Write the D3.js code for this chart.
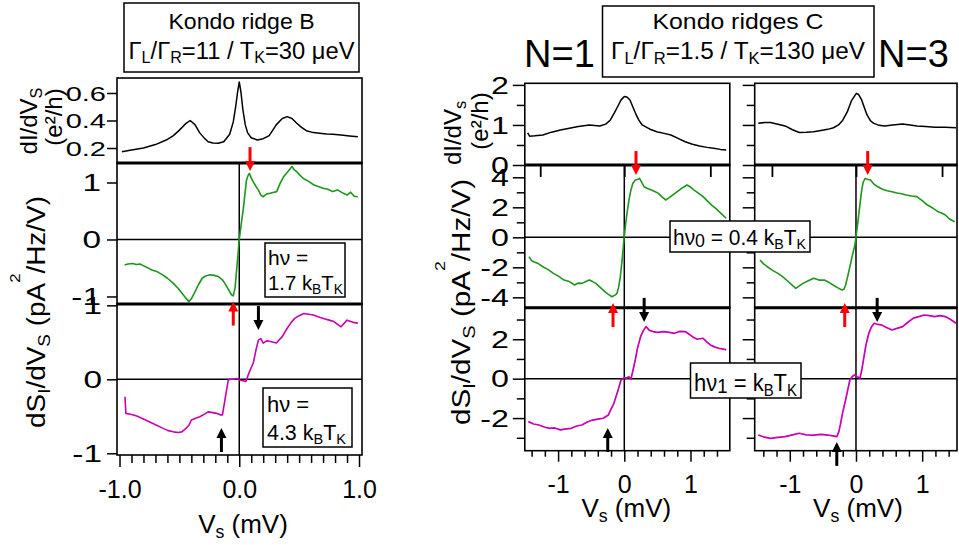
<!DOCTYPE html>
<html><head><meta charset="utf-8">
<script src="https://cdn.jsdelivr.net/npm/d3@7"></script>
<style>
body{margin:0;background:#fff}
svg{display:block}
text{font-family:"Liberation Sans",Arial,Helvetica,sans-serif;fill:#000}
</style>
</head><body><script>
// ---------------- DATA ----------------
// Kondo ridge B : dI/dV (e^2/h)
const bCondV = [-0.98,-0.9,-0.8,-0.7,-0.61,-0.55,-0.5,-0.45,-0.41,-0.37,-0.33,-0.29,-0.26,-0.22,-0.175,-0.13,-0.08,-0.05,-0.03,-0.015,0.0,0.015,0.03,0.05,0.07,0.1,0.15,0.2,0.25,0.31,0.36,0.4,0.44,0.48,0.52,0.56,0.62,0.67,0.73,0.78,0.85,0.92,0.99];
const bCond  = [0.173,0.185,0.20,0.225,0.258,0.29,0.33,0.375,0.40,0.37,0.31,0.27,0.246,0.236,0.234,0.245,0.30,0.39,0.50,0.60,0.68,0.60,0.48,0.37,0.31,0.275,0.258,0.268,0.29,0.37,0.415,0.428,0.415,0.38,0.35,0.326,0.312,0.307,0.302,0.30,0.295,0.288,0.282];
// Kondo ridge B : dS/dV, h nu = 1.7 kBTK
const bLowV = [-0.957,-0.93,-0.89,-0.86,-0.83,-0.81,-0.77,-0.73,-0.69,-0.64,-0.6,-0.55,-0.51,-0.48,-0.45,-0.42,-0.40,-0.37,-0.34,-0.31,-0.28,-0.245,-0.21,-0.175,-0.14,-0.12,-0.09,-0.065,-0.05,-0.035,-0.022,-0.01,0.0,0.015,0.033,0.05,0.06,0.075,0.084,0.1,0.117,0.14,0.159,0.18,0.2,0.23,0.257,0.29,0.313,0.34,0.37,0.41,0.44,0.46,0.48,0.51,0.535,0.58,0.62,0.66,0.7,0.74,0.78,0.82,0.87,0.9,0.93,0.96,0.99];
const bLow  = [-0.447,-0.43,-0.42,-0.44,-0.43,-0.45,-0.49,-0.535,-0.56,-0.62,-0.68,-0.77,-0.86,-0.94,-1.02,-1.09,-1.04,-0.92,-0.79,-0.68,-0.64,-0.62,-0.63,-0.65,-0.71,-0.77,-0.88,-0.97,-0.99,-0.85,-0.535,-0.25,0.0,0.25,0.52,0.85,1.04,1.13,1.16,1.08,1.01,0.93,0.87,0.78,0.75,0.80,0.81,0.83,0.84,0.98,1.10,1.2,1.28,1.22,1.19,1.12,1.07,1.02,0.96,0.93,0.90,0.88,0.84,0.87,0.81,0.78,0.83,0.76,0.75];
// Kondo ridge B : dS/dV, h nu = 4.3 kBTK
const bHighV = [-0.954,-0.947,-0.92,-0.89,-0.85,-0.81,-0.77,-0.73,-0.69,-0.64,-0.6,-0.55,-0.51,-0.48,-0.45,-0.42,-0.40,-0.37,-0.33,-0.29,-0.26,-0.22,-0.19,-0.16,-0.14,-0.12,-0.092,-0.07,-0.05,-0.02,0.006,0.03,0.056,0.075,0.095,0.117,0.14,0.16,0.18,0.2,0.23,0.26,0.31,0.36,0.40,0.43,0.46,0.5,0.54,0.58,0.62,0.67,0.71,0.75,0.79,0.85,0.9,0.95,0.99];
const bHigh  = [-0.235,-0.46,-0.47,-0.48,-0.50,-0.53,-0.56,-0.59,-0.62,-0.66,-0.69,-0.71,-0.72,-0.71,-0.67,-0.62,-0.55,-0.53,-0.505,-0.47,-0.44,-0.45,-0.46,-0.48,-0.48,-0.28,-0.01,0.0,0.0,0.01,-0.01,-0.02,-0.03,0.06,0.14,0.22,0.40,0.53,0.55,0.49,0.52,0.51,0.49,0.58,0.69,0.76,0.82,0.86,0.89,0.88,0.87,0.84,0.82,0.80,0.78,0.71,0.80,0.77,0.76];

// Kondo ridges C, N=1 : dI/dV
const c1CondV = [-1.46,-1.43,-1.35,-1.23,-1.1,-0.965,-0.83,-0.695,-0.53,-0.37,-0.28,-0.21,-0.15,-0.10,-0.05,0.0,0.04,0.086,0.13,0.17,0.22,0.27,0.38,0.49,0.6,0.705,0.82,0.92,1.03,1.136,1.25,1.35,1.45,1.54];
const c1Cond  = [0.80,0.72,0.73,0.75,0.82,0.875,0.92,0.96,1.0,0.975,1.02,1.125,1.3,1.46,1.62,1.71,1.70,1.625,1.45,1.29,1.12,1.0,0.9,0.83,0.79,0.75,0.66,0.58,0.52,0.475,0.44,0.42,0.39,0.375];
// N=3 : dI/dV
const c3CondV = [-1.476,-1.38,-1.29,-1.18,-1.07,-0.96,-0.857,-0.75,-0.64,-0.53,-0.426,-0.34,-0.264,-0.2,-0.13,-0.07,0.005,0.04,0.086,0.13,0.167,0.22,0.27,0.35,0.435,0.55,0.705,0.82,0.92,1.05,1.19,1.35,1.51];
const c3Cond  = [1.04,1.06,1.06,1.02,0.975,0.88,0.81,0.815,0.83,0.86,0.89,0.93,1.0,1.12,1.33,1.6,1.79,1.76,1.625,1.42,1.25,1.1,1.04,0.99,0.975,1.0,1.025,1.0,0.975,0.96,0.94,0.94,0.93];
// N=1 : dS/dV, h nu0 = 0.4 kBTK
const c1LowV = [-1.44,-1.40,-1.37,-1.30,-1.23,-1.15,-1.07,-0.99,-0.91,-0.83,-0.75,-0.70,-0.64,-0.58,-0.53,-0.48,-0.43,-0.36,-0.29,-0.24,-0.186,-0.14,-0.11,-0.085,-0.06,-0.03,-0.006,0.02,0.048,0.075,0.1,0.13,0.166,0.2,0.23,0.26,0.3,0.35,0.41,0.46,0.516,0.57,0.624,0.68,0.73,0.8,0.866,0.947,1.0,1.054,1.12,1.19,1.25,1.32,1.39,1.46,1.54];
const c1Low  = [-1.29,-1.55,-1.63,-1.75,-1.96,-2.15,-2.4,-2.6,-2.85,-2.95,-3.18,-3.05,-3.07,-2.95,-2.85,-2.95,-3.07,-3.35,-3.63,-3.8,-3.96,-3.85,-3.73,-3.3,-2.63,-1.4,-0.18,0.9,1.82,2.6,3.15,3.6,3.82,3.85,3.93,3.7,3.37,3.25,3.15,3.05,2.93,2.7,2.49,2.65,2.82,3.05,3.26,3.49,3.35,3.15,2.95,2.71,2.45,2.15,1.9,1.6,1.27];
// N=3 : dS/dV, h nu0 = 0.4 kBTK
const c3LowV = [-1.45,-1.40,-1.34,-1.26,-1.18,-1.10,-1.02,-0.96,-0.91,-0.86,-0.8,-0.72,-0.64,-0.56,-0.48,-0.41,-0.345,-0.28,-0.21,-0.18,-0.157,-0.125,-0.092,-0.06,-0.022,0.0,0.032,0.06,0.086,0.11,0.14,0.18,0.22,0.27,0.33,0.4,0.47,0.544,0.62,0.69,0.758,0.84,0.92,1.0,1.08,1.16,1.24,1.3,1.35,1.42,1.49];
const c3Low  = [-1.51,-1.75,-1.96,-2.2,-2.4,-2.65,-2.96,-3.2,-3.4,-3.25,-3.07,-2.9,-2.73,-2.85,-2.85,-3.0,-3.18,-3.35,-3.51,-3.45,-3.18,-2.6,-1.96,-1.3,-0.63,0.0,1.15,2.2,3.15,3.7,3.93,3.85,3.82,3.55,3.37,3.2,3.1,3.04,2.95,2.9,2.82,2.75,2.71,2.45,2.15,1.95,1.71,1.6,1.49,1.2,1.04];
// N=1 : dS/dV, h nu1 = kBTK
const c1HighV = [-1.45,-1.37,-1.29,-1.21,-1.13,-1.05,-0.965,-0.88,-0.80,-0.72,-0.64,-0.56,-0.48,-0.40,-0.32,-0.24,-0.2,-0.157,-0.12,-0.092,-0.05,0.0,0.032,0.07,0.1,0.13,0.166,0.2,0.246,0.29,0.328,0.38,0.435,0.5,0.597,0.68,0.758,0.84,0.92,0.98,1.03,1.1,1.19,1.25,1.30,1.37,1.43,1.5,1.54];
const c1High  = [-2.18,-2.3,-2.35,-2.45,-2.52,-2.5,-2.6,-2.55,-2.52,-2.4,-2.35,-2.2,-2.1,-2.05,-2.01,-1.84,-1.55,-1.25,-0.85,-0.57,-0.07,0.05,0.02,0.1,-0.03,0.4,0.95,1.55,2.13,2.45,2.64,2.45,2.39,2.35,2.39,2.35,2.3,2.4,2.39,2.25,2.13,2.0,2.05,1.85,1.71,1.6,1.54,1.5,1.46];
// N=3 : dS/dV, h nu1 = kBTK
const c3HighV = [-1.476,-1.4,-1.29,-1.18,-1.07,-0.96,-0.857,-0.75,-0.64,-0.53,-0.426,-0.35,-0.29,-0.26,-0.237,-0.2,-0.157,-0.12,-0.092,-0.06,-0.022,0.02,0.06,0.085,0.113,0.15,0.194,0.23,0.274,0.33,0.38,0.46,0.544,0.62,0.705,0.78,0.867,0.95,1.03,1.11,1.19,1.27,1.35,1.43,1.51];
const c3High  = [-2.86,-2.95,-3.03,-2.98,-2.94,-2.85,-2.77,-2.85,-2.86,-2.83,-2.86,-2.9,-2.94,-2.7,-2.35,-1.7,-1.08,-0.5,-0.07,0.1,0.19,0.1,0.02,0.4,0.95,1.7,2.3,2.6,2.81,2.75,2.73,2.6,2.47,2.55,2.64,2.85,3.07,3.15,3.23,3.2,3.15,3.2,3.15,3.0,2.81];

// Arrows: bias position (mV), tip value in the panel's scale
const arrowsB = [
  {panel:"mid", v:0.09,  tip:1.20,  dir:1,  color:"red"},
  {panel:"mid", v:-0.05, tip:-1.09, dir:-1, color:"red"},
  {panel:"bot", v:0.16,  tip:0.666, dir:1,  color:"black"},
  {panel:"bot", v:-0.149,tip:-0.658,dir:-1, color:"black"}
];
const arrowsC1 = [
  {panel:"mid", v:0.177, tip:4.15, dir:1, color:"red"},
  {panel:"mid", v:-0.17, tip:-4.38, dir:-1, color:"red"},
  {panel:"bot", v:0.30,  tip:2.88, dir:1, color:"black"},
  {panel:"bot", v:-0.25, tip:-2.5, dir:-1, color:"black"}
];
const arrowsC3 = [
  {panel:"mid", v:0.177, tip:4.15, dir:1, color:"red"},
  {panel:"mid", v:-0.17, tip:-4.38, dir:-1, color:"red"},
  {panel:"bot", v:0.32,  tip:2.88, dir:1, color:"black"},
  {panel:"bot", v:-0.29, tip:-3.21, dir:-1, color:"black"}
];

// Tick values / labels
const bCondTicks = [0.2,0.4,0.6], bCondLabels = ["0.2","0.4","0.6"];
const bNoiseTicks = [-1,0,1], bNoiseLabels = ["-1","0","1"];
const bXTicks = [-1,0,1], bXLabels = ["-1.0","0.0","1.0"];
const bXMinor = d3.range(-10,11).filter(d=>d%10!==0).map(d=>d/10);
const cCondTicks = [0,1,2], cCondLabels = ["0","1","2"], cCondMinor=[0.5,1.5];
const cMidTicks = [-4,-2,0,2,4], cMidLabels=["-4","-2","0","2","4"], cMidMinor=[-3,-1,1,3];
const cBotTicks = [-2,0,2], cBotLabels=["-2","0","2"], cBotMinor=[-3,-1,1,3];
const cXTicks = [-1,0,1], cXLabels=["-1","0","1"];
const cXMinor = [-1.4,-1.2,-0.8,-0.6,-0.4,-0.2,0.2,0.4,0.6,0.8,1.2,1.4];
const cTopMarks = [-1.27,0,1.3];

// ---------------- DRAW ----------------
const svg = d3.select("body").append("svg").attr("width",959).attr("height",545);
const GREEN="#1d961d", MAG="#c800b4";

function rich(sel, segs, fs){
  let cur=0;
  segs.forEach(s=>{
    const t=s[0], type=s[1]||"";
    let shift=0,size=fs;
    if(type==="sub"){shift=fs*0.2;size=fs*0.68;}
    if(type==="sub2"){shift=fs*0.1;size=fs*0.85;}
    if(type==="sup"){shift=-fs*1.0;size=fs*0.6;}
    sel.append("tspan").attr("dy",(shift-cur).toFixed(2)).attr("font-size",size).text(t);
    cur=shift;
  });
  return sel;
}
function txt(x,y,segs,fs,anchor,len){
  const t=svg.append("text").attr("x",x).attr("y",y).attr("font-size",fs).attr("text-anchor",anchor||"start");
  if(len) t.attr("textLength",len).attr("lengthAdjust","spacingAndGlyphs");
  return rich(t,segs,fs);
}
function rtxt(x,y,segs,fs,len){
  const t=svg.append("text").attr("transform",`translate(${x},${y}) rotate(-90)`).attr("font-size",fs).attr("text-anchor","middle");
  if(len) t.attr("textLength",len).attr("lengthAdjust","spacingAndGlyphs");
  return rich(t,segs,fs);
}

function curve(xs, ys, vs, vals, color, w){
  const pts = vs.map((v,i)=>[xs(v), ys(vals[i])]);
  svg.append("path").attr("d",d3.line()(pts)).attr("fill","none").attr("stroke",color).attr("stroke-width",w).attr("stroke-linejoin","round");
}
function hline(xs,ys,val,w){
  const [a,b]=xs.range();
  svg.append("line").attr("x1",a).attr("x2",b).attr("y1",ys(val)).attr("y2",ys(val)).attr("stroke","#000").attr("stroke-width",w);
}
function vline(xs,ys,val,w){
  const [a,b]=ys.range();
  svg.append("line").attr("x1",xs(val)).attr("x2",xs(val)).attr("y1",a).attr("y2",b).attr("stroke","#000").attr("stroke-width",w);
}
function frame(xs,ys,w){
  const [x0,x1]=xs.range(), [y0,y1]=ys.range();
  svg.append("rect").attr("x",x0).attr("y",y1).attr("width",x1-x0).attr("height",y0-y1).attr("fill","none").attr("stroke","#000").attr("stroke-width",w);
}
function yAxis(x, scale, ticks, labels, opt){
  const g=svg.append("g").attr("transform",`translate(${x},0)`);
  g.call(d3.axisLeft(scale).tickValues(ticks).tickSize(opt.size).tickFormat((d,i)=>labels?labels[i]:""));
  g.select(".domain").remove();
  g.selectAll("line").attr("stroke","#000").attr("stroke-width",1.5);
  if(labels){
    g.selectAll("text").attr("x",0).attr("dy","0.36em").attr("font-size",opt.fs)
      .attr("font-family",'"Liberation Sans",Arial,sans-serif').attr("fill","#000")
      .attr("transform",`translate(${-opt.off},0) scale(${opt.sx},1)`);
  } else {
    g.selectAll("text").remove();
  }
  if(opt.minor){
    const m=svg.append("g").attr("transform",`translate(${x},0)`);
    m.call(d3.axisLeft(scale).tickValues(opt.minor).tickSize(opt.msize).tickFormat(""));
    m.select(".domain").remove();
    m.selectAll("text").remove();
    m.selectAll("line").attr("stroke","#000").attr("stroke-width",1.5);
  }
}
function xAxis(y, scale, ticks, labels, opt){
  const g=svg.append("g").attr("transform",`translate(0,${y})`);
  g.call(d3.axisBottom(scale).tickValues(ticks).tickSize(opt.size).tickFormat((d,i)=>labels[i]));
  g.select(".domain").remove();
  g.selectAll("line").attr("stroke","#000").attr("stroke-width",1.5);
  g.selectAll("text").attr("y",opt.ty).attr("dy",0).attr("font-size",opt.fs)
    .attr("font-family",'"Liberation Sans",Arial,sans-serif').attr("fill","#000");
  const m=svg.append("g").attr("transform",`translate(0,${y})`);
  m.call(d3.axisBottom(scale).tickValues(opt.minor).tickSize(opt.msize).tickFormat(""));
  m.select(".domain").remove();
  m.selectAll("text").remove();
  m.selectAll("line").attr("stroke","#000").attr("stroke-width",1.5);
}
function arrow(xs, ys, a){
  const x=xs(a.v), yt=ys(a.tip), len=24, hh=10, hw=5, d=a.dir;
  svg.append("line").attr("x1",x).attr("x2",x).attr("y1",yt-d*len).attr("y2",yt-d*(hh-1)).attr("stroke",a.color).attr("stroke-width",3);
  svg.append("path").attr("d",`M${x-hw},${yt-d*hh}L${x+hw},${yt-d*hh}L${x},${yt}Z`).attr("fill",a.color);
}
function box(x,y,w,h){
  svg.append("rect").attr("x",x).attr("y",y).attr("width",w).attr("height",h).attr("fill","#fff").attr("stroke","#000").attr("stroke-width",1.5);
}

// ---- Left: Kondo ridge B ----
const xB = d3.scaleLinear().domain([-1.021,1.025]).range([117,362]);
const yBtop = d3.scaleLinear().domain([0.091,0.709]).range([163,78]);
const yBmid = d3.scaleLinear().domain([-1.132,1.342]).range([304,163]);
const yBbot = d3.scaleLinear().domain([-1.023,1.018]).range([455,304]);

hline(xB,yBmid,0,1.5); vline(xB,yBmid,0,1.5);
hline(xB,yBbot,0,1.5); vline(xB,yBbot,0,1.5);
curve(xB,yBtop,bCondV,bCond,"#000",1.5);
curve(xB,yBmid,bLowV,bLow,GREEN,1.6);
curve(xB,yBbot,bHighV,bHigh,MAG,1.6);
frame(xB,yBtop,1.6); frame(xB,yBmid,1.6); frame(xB,yBbot,1.6);
hline(xB,yBmid,yBmid.domain()[1],3); hline(xB,yBbot,yBbot.domain()[1],3);

yAxis(117,yBtop,bCondTicks,bCondLabels,{size:10,fs:20,off:11,sx:1.45});
yAxis(117,yBmid,bNoiseTicks,bNoiseLabels,{size:10,fs:23,off:16,sx:1.45});
yAxis(117,yBbot,bNoiseTicks,bNoiseLabels,{size:10,fs:23,off:15,sx:1.45});
xAxis(455,xB,bXTicks,bXLabels,{size:12,msize:8,minor:bXMinor,fs:25,ty:43});

// label boxes
box(265,243,80,54);
txt(268,265,[["hν ="]],21);
txt(268,290,[["1.7 k"],["B","sub"],["T"],["K","sub"]],21,"start",75);
box(263,388,89,59);
txt(267,412,[["hν ="]],22);
txt(267,440,[["4.3 k"],["B","sub"],["T"],["K","sub"]],22,"start",79);

arrowsB.forEach(a=>arrow(xB, a.panel==="mid"?yBmid:yBbot, a));

// title box B
box(124,3,235,69);
txt(241.5,28.5,[["Kondo ridge B"]],22,"middle",146);
txt(241.5,58.5,[["Γ"],["L","sub"],["/Γ"],["R","sub"],["=11 / T"],["K","sub"],["=30 μeV"]],23,"middle",226);

// axis titles B
rtxt(37,121,[["dI/dV"],["S","sub"]],24);
rtxt(62,117,[["(e²/h)"]],24);
rtxt(45,312,[["dS"],["I","sub"],["/dV"],["S","sub"],[" (pA"],["2","sup"],["/Hz/V)"]],25,232);
txt(243,533,[["V"],["s","sub"],[" (mV)"]],26,"middle");

// ---- Right: Kondo ridges C ----
const xC1 = d3.scaleLinear().domain([-1.503,1.594]).range([524.8,729.8]);
const xC3 = d3.scaleLinear().domain([-1.530,1.526]).range([754.7,957]);
const yCtop = d3.scaleLinear().domain([0,2.04]).range([165,83.3]);
const yCmid = d3.scaleLinear().domain([-4.69,4.82]).range([307.7,165]);
const yCbot = d3.scaleLinear().domain([-3.655,3.60]).range([450.7,307.7]);

[[xC1,c1CondV,c1Cond,c1LowV,c1Low,c1HighV,c1High,arrowsC1,true],[xC3,c3CondV,c3Cond,c3LowV,c3Low,c3HighV,c3High,arrowsC3,false]].forEach(p=>{
  const [xs,cv,cc,lv,lc,hv,hc,arr,lab]=p;
  hline(xs,yCmid,0,1.5); vline(xs,yCmid,0,1.5);
  hline(xs,yCbot,0,1.5); vline(xs,yCbot,0,1.5);
  curve(xs,yCtop,cv,cc,"#000",1.5);
  curve(xs,yCmid,lv,lc,GREEN,1.6);
  curve(xs,yCbot,hv,hc,MAG,1.7);
  frame(xs,yCtop,1.6); frame(xs,yCmid,1.6); frame(xs,yCbot,1.6);
  hline(xs,yCmid,yCmid.domain()[1],3); hline(xs,yCbot,yCbot.domain()[1],3);
  const tg=svg.append("g").attr("transform",`translate(0,${yCmid.range()[1]})`);
  tg.call(d3.axisBottom(xs).tickValues(cTopMarks).tickSize(12).tickFormat(""));
  tg.select(".domain").remove(); tg.selectAll("text").remove();
  tg.selectAll("line").attr("stroke","#000").attr("stroke-width",1.8);
  const x0=xs.range()[0];
  yAxis(x0,yCtop,cCondTicks,lab?cCondLabels:null,{size:12,msize:8,minor:cCondMinor,fs:23,off:16,sx:1.4});
  yAxis(x0,yCmid,cMidTicks,lab?cMidLabels:null,{size:12,msize:8,minor:cMidMinor,fs:23,off:16,sx:1.4});
  yAxis(x0,yCbot,cBotTicks,lab?cBotLabels:null,{size:12,msize:8,minor:cBotMinor,fs:23,off:16,sx:1.4});
  xAxis(450.7,xs,cXTicks,cXLabels,{size:11,msize:6,minor:cXMinor,fs:25,ty:42.5});
  arr.forEach(a=>arrow(xs, a.panel==="mid"?yCmid:yCbot, a));
  txt(xs(0)+2,517,[["V"],["s","sub"],[" (mV)"]],26,"middle");
});

box(670,221,140,31);
txt(673,245,[["hν"],["0","sub2"],[" = 0.4 k"],["B","sub"],["T"],["K","sub"]],22,"start",133);
box(690.5,363,110.5,35);
txt(694,391,[["hν"],["1","sub2"],[" = k"],["B","sub"],["T"],["K","sub"]],23,"start",103);

// title box C
box(602.5,6,271.5,71);
txt(738,28.5,[["Kondo ridges C"]],22,"middle",171);
txt(738,59,[["Γ"],["L","sub"],["/Γ"],["R","sub"],["=1.5 / T"],["K","sub"],["=130 μeV"]],23.5,"middle",254);
txt(524,67,[["N=1"]],38);
txt(878,67,[["N=3"]],38);

// axis titles C
rtxt(461,133,[["dI/dV"],["s","sub"]],24);
rtxt(488,121,[["(e²/h)"]],24);
rtxt(470,302,[["dS"],["I","sub"],["/dV"],["S","sub"],[" (pA"],["2","sup"],["/Hz/V)"]],25,246);
</script></body></html>
